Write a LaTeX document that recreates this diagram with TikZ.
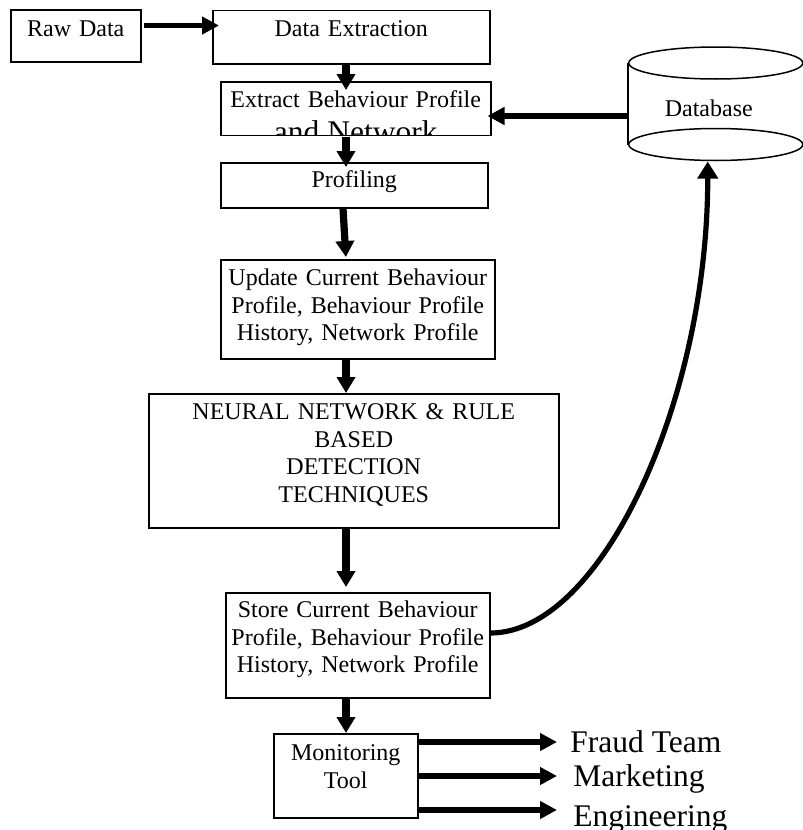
\documentclass[tikz,border=0pt]{standalone}
\usepackage{fontspec}
\setmainfont{Liberation Serif}
\usetikzlibrary{arrows.meta}
\begin{document}
\begin{tikzpicture}[x=0.5pt, y=-0.5pt,
  every node/.style={font=\fontsize{12}{13.8}\selectfont},
  box/.style={draw, line width=0.75pt, anchor=north west, inner sep=0pt, align=center},
  vflow/.style={line width=3.6pt, -{Triangle[length=8pt,width=9pt]}},
  hflow/.style={line width=2.6pt, -{Triangle[length=8.5pt,width=8.5pt]}},
  team/.style={anchor=base west, inner sep=0pt, font=\fontsize{15.75}{17}\selectfont},
  drum/.style={line width=0.75pt}
]
\useasboundingbox (0,0) rectangle (803,830);

% process boxes (text sits near the top of each box)
\node[box, text width=65pt, text height=13.35pt, text depth=12.65pt] (raw) at (10,9) {Raw Data};
\node[box, text width=138.5pt, text height=13.25pt, text depth=13.5pt] (extraction) at (212,9.5) {Data Extraction};
\begin{scope}
  \clip (216,77) rectangle (494,135.75);
  \node[box, text width=135pt, text height=13pt, text depth=14pt] (behaviour) at (220,81)
    {Extract Behaviour Profile\\[3.45pt]{\fontsize{15.75}{17}\selectfont and Network}};
\end{scope}
\node[box, text width=133.5pt, text height=12.5pt, text depth=10pt] (profiling) at (220,162) {Profiling};
\node[box, text width=137pt, text height=13pt, text depth=36.5pt] (update) at (220,259)
  {Update Current Behaviour\\Profile, Behaviour Profile\\History, Network Profile};
\node[box, text width=205pt, text height=13pt, text depth=54pt] (detect) at (148,393)
  {NEURAL NETWORK \& RULE\\BASED\\DETECTION\\TECHNIQUES};
\node[box, text width=132pt, text height=12.5pt, text depth=40pt] (store) at (225,592)
  {Store Current Behaviour\\Profile, Behaviour Profile\\History, Network Profile};
\node[box, text width=72pt, text height=13.5pt, text depth=28.5pt] (monitor) at (273,733)
  {Monitoring\\Tool};

% database drum
\node[box, draw=none, text width=87pt, text height=26.5pt, text depth=13.5pt] (db) at (628,63) {Database\rule{7pt}{0pt}};
\draw[drum] (db.north west) -- (db.south west) (db.north east) -- (db.south east);
\draw[drum] (db.north) ellipse [x radius=43.5pt, y radius=8pt];
\draw[drum] (db.south) ellipse [x radius=43.5pt, y radius=8pt];

% recipients
\node[team] (fraud) at (570,752.7) {Fraud Team};
\node[team] (marketing) at (573,786.7) {Marketing};
\node[team] (engineering) at (573,826.7) {Engineering};

% main flow
\coordinate (spine) at (346,0);
\coordinate (spineb) at (343,0);
\draw[hflow, shorten <=1pt, shorten >=-3.5pt] (raw.east |- 0,25.5) -- (extraction.west |- 0,25.5);
\draw[vflow, shorten >=-4.5pt] (extraction.south -| spine) -- (behaviour.north -| spine);
\draw[vflow, shorten >=-2.5pt] (behaviour.south -| spine) -- (profiling.north -| spine);
\draw[vflow, shorten >=1pt] (profiling.south -| spineb) -- (update.north -| spine);
\draw[vflow] (update.south -| spine) -- (detect.north -| spine);
\draw[vflow, shorten >=2.5pt] (detect.south -| spine) -- (store.north -| spine);
\draw[vflow] (store.south -| spine) -- (monitor.north -| spine);

% database links
\draw[hflow, shorten >=-2pt] (db.west |- 0,116) -- (behaviour.east |- 0,116);
\draw[line width=2.6pt, -{Triangle[length=8.5pt,width=10pt]}]
  (store.east |- 0,633) .. controls +(110,0) and +(0,241) .. ([xshift=-4pt,yshift=-8.5pt]db.south);

% outputs of the monitoring tool
\draw[hflow, shorten >=6.5pt] (monitor.east |- 0,742) -- (fraud.west |- 0,742);
\draw[hflow, shorten >=8pt] (monitor.east |- 0,776) -- (marketing.west |- 0,776);
\draw[hflow, shorten >=8pt] (monitor.east |- 0,810) -- (engineering.west |- 0,810);
\end{tikzpicture}
\end{document}
